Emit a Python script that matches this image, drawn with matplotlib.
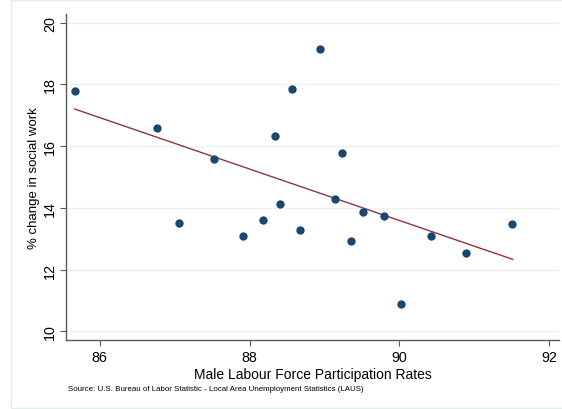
import numpy as np
import matplotlib
matplotlib.use("Agg")
import matplotlib.pyplot as plt
from matplotlib.patches import Rectangle

# Data
lfp = [85.67, 86.77, 87.52, 88.34, 88.94, 88.56, 89.24, 89.14, 87.06, 87.91,
       88.18, 88.40, 88.67, 89.36, 89.52, 89.80, 90.42, 90.89, 91.50, 90.02]
pct_change = [17.77, 16.60, 15.59, 16.34, 19.14, 17.84, 15.77, 14.29, 13.52, 13.10,
              13.61, 14.11, 13.28, 12.93, 13.87, 13.72, 13.09, 12.53, 13.46, 10.89]
# fitted line endpoints
fit_x = [85.67, 91.51]
fit_y = [17.20, 12.33]
x_ticks = [86, 88, 90, 92]
y_ticks = [10, 12, 14, 16, 18, 20]

plt.rcParams['font.family'] = ['Liberation Sans', 'DejaVu Sans']

fig = plt.figure(figsize=(5.62, 4.10), dpi=100)
ax = fig.add_axes([66/562, 1-341/410, (559-66)/562, (341-15)/410])

ax.plot(fit_x, fit_y, color='#90353b', lw=1.0, zorder=2)
ax.scatter(lfp, pct_change, s=36, color='#1a476f', zorder=3, linewidths=0)

ax.set_xlim(85.553, 92.127)
ax.set_ylim(9.717, 20.28)
ax.set_xticks(x_ticks)
ax.set_yticks(y_ticks)
ax.set_xticklabels([str(t) for t in x_ticks], fontsize=10.3)
ax.set_yticklabels([str(t) for t in y_ticks], fontsize=10.3, rotation=90, va='center')

ax.grid(axis='y', color='#eaf2f3', lw=1.0)
ax.set_axisbelow(True)
for s in ['top', 'right']:
    ax.spines[s].set_visible(False)
for s in ['left', 'bottom']:
    ax.spines[s].set_color('#5a5a5a')
    ax.spines[s].set_linewidth(1.0)
ax.tick_params(axis='both', direction='out', length=4.3, width=0.8, color='#5a5a5a')
ax.tick_params(axis='y', pad=2)
ax.tick_params(axis='x', pad=3)

ax.set_xlabel('Male Labour Force Participation Rates', fontsize=10, labelpad=2)
ax.set_ylabel('% change in social work', fontsize=9.5, labelpad=2)

fig.text(68/562, 1-390/410, 'Source: U.S. Bureau of Labor Statistic - Local Area Unemployment Statistics (LAUS)',
         fontsize=5.7, va='center', ha='left')

fig.patches.append(Rectangle((10.5/562, 0.6/410), 1.0, 1-1.6/410, transform=fig.transFigure,
                             fill=False, edgecolor='#e4ecee', lw=1.0))

fig.savefig('out.png', dpi=100)
